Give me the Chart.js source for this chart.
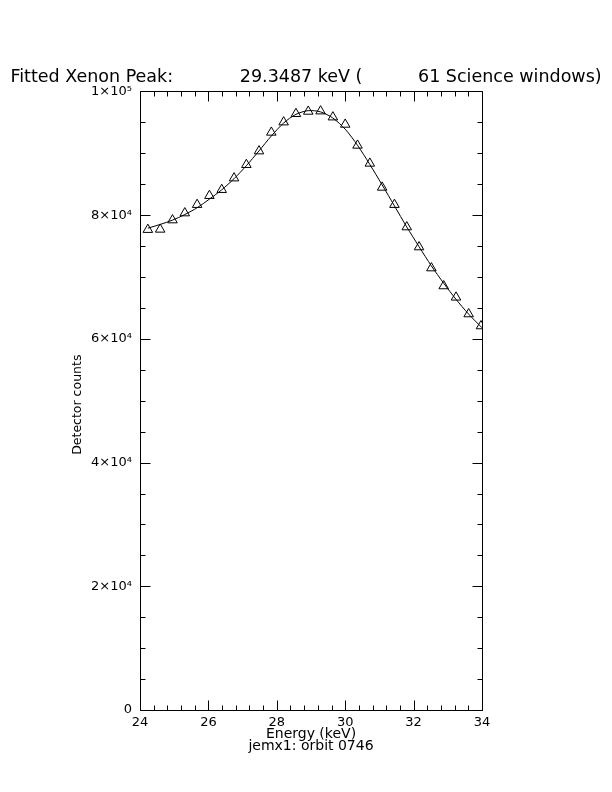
<!DOCTYPE html>
<html>
<head>
<meta charset="utf-8">
<script src="https://cdn.jsdelivr.net/npm/chart.js@4/dist/chart.umd.min.js"></script>
<style>
  html, body { margin: 0; padding: 0; background: #fff; }
  #wrap { width: 612px; height: 792px; }
</style>
</head>
<body>
<div id="wrap"><canvas id="peak" width="612" height="792"></canvas></div>
<script>
// ============================================
// Fitted Xenon peak - JEM-X1 orbit 0746
// ============================================

// measured spectrum (keV, counts)
const energies = [24.23, 24.59, 24.95, 25.31, 25.67, 26.03, 26.39, 26.75, 27.11, 27.48,
                  27.84, 28.20, 28.56, 28.92, 29.28, 29.64, 30.00, 30.36, 30.72, 31.08,
                  31.44, 31.80, 32.16, 32.52, 32.88, 33.24, 33.61, 33.97];
const counts = [77660, 77700, 79210, 80340, 81700, 83150, 84120, 85990, 88160, 90360,
                93380, 95040, 96400, 96770, 96820, 95850, 94670, 91280, 88370, 84490,
                81700, 78080, 74850, 71450, 68550, 66720, 64020, 62080];

// fitted curve
const fitEnergies = [24.23, 24.59, 24.95, 25.31, 25.67, 26.03, 26.39, 26.75, 27.11, 27.48,
                     27.84, 28.20, 28.56, 28.92, 29.28, 29.64, 30.00, 30.36, 30.72, 31.08,
                     31.44, 31.80, 32.16, 32.52, 32.88, 33.24, 33.61, 34.00];
const fitCounts = [77900, 78500, 79200, 80100, 81200, 82600, 84100, 85900, 88000, 90400,
                   92800, 94900, 96300, 96900, 96700, 95700, 93900, 91300, 88200, 84900,
                   81500, 78100, 74900, 71800, 69000, 66400, 64000, 61800];

// axis ticks
const xTickValues = [24, 26, 28, 30, 32, 34];
const yTickValues = [0, 20000, 40000, 60000, 80000, 100000];
const yTickLabels = ['0', '2\u00d710\u2074', '4\u00d710\u2074', '6\u00d710\u2074', '8\u00d710\u2074', '1\u00d710\u2075'];

const FONT = "'DejaVu Sans', Verdana, sans-serif";

// IDL style frame: box with inward ticks on all four sides
const frameTicks = {
  id: 'frameTicks',
  afterDatasetsDraw(chart) {
    const { ctx, chartArea: a, scales: { x, y } } = chart;
    ctx.save();
    ctx.strokeStyle = '#000';
    ctx.lineWidth = 1;
    ctx.beginPath();
    const L = Math.round(a.left) + 0.5, R = Math.round(a.right) + 0.5;
    const T = Math.round(a.top) + 0.5, B = Math.round(a.bottom) + 0.5;
    ctx.rect(L, T, R - L, B - T);
    // x ticks every 0.4 keV, major every 2
    for (let i = 0; i <= 25; i++) {
      const v = 24 + i * 0.4;
      const px = Math.round(x.getPixelForValue(v)) + 0.5;
      const len = (i % 5 === 0) ? 10 : 5;
      ctx.moveTo(px, B); ctx.lineTo(px, B - len);
      ctx.moveTo(px, T); ctx.lineTo(px, T + len);
    }
    // y ticks every 5000, major every 20000
    for (let i = 0; i <= 20; i++) {
      const v = i * 5000;
      const py = Math.round(y.getPixelForValue(v)) + 0.5;
      const len = (i % 4 === 0) ? 10 : 5;
      ctx.moveTo(L, py); ctx.lineTo(L + len, py);
      ctx.moveTo(R, py); ctx.lineTo(R - len, py);
    }
    ctx.stroke();
    ctx.restore();
  }
};

const ctx = document.getElementById('peak').getContext('2d');
new Chart(ctx, {
  type: 'scatter',
  data: {
    datasets: [
      {
        label: 'Data',
        data: energies.map((e, i) => ({ x: e, y: counts[i] })),
        showLine: false,
        pointStyle: 'triangle',
        pointRadius: 5.5,
        pointBorderWidth: 1,
        pointBorderColor: '#000',
        pointBackgroundColor: 'rgba(0,0,0,0)'
      },
      {
        label: 'Fit',
        data: fitEnergies.map((e, i) => ({ x: e, y: fitCounts[i] })),
        showLine: true,
        borderColor: '#000',
        borderWidth: 1,
        pointRadius: 0,
        tension: 0.3
      }
    ]
  },
  options: {
    responsive: false,
    animation: false,
    layout: { padding: { top: 0, right: 0, bottom: 40, left: 0 } },
    plugins: {
      legend: { display: false },
      tooltip: { enabled: false },
      title: {
        display: true,
        text: 'Fitted Xenon Peak:            29.3487 keV (          61 Science windows)',
        color: '#000',
        font: { size: 17.5, family: FONT, weight: 'normal', lineHeight: 1.17 },
        padding: { top: 67, bottom: 4 }
      }
    },
    scales: {
      x: {
        type: 'linear',
        min: 24,
        max: 34,
        afterFit: s => { s.height = 42; },
        afterBuildTicks: s => { s.ticks = xTickValues.map(v => ({ value: v })); },
        grid: { display: false, drawTicks: false },
        border: { display: false },
        ticks: {
          color: '#000',
          padding: 5,
          maxRotation: 0,
          autoSkip: false,
          font: { size: 13, family: FONT }
        },
        title: {
          display: true,
          text: ['Energy (keV)', 'jemx1: orbit 0746'],
          color: '#000',
          font: { size: 14, family: FONT, lineHeight: 0.82 },
          padding: { top: 0, bottom: 0 }
        }
      },
      y: {
        type: 'linear',
        min: 0,
        max: 100000,
        afterFit: s => { s.width = 140; },
        afterBuildTicks: s => { s.ticks = yTickValues.map(v => ({ value: v })); },
        grid: { display: false, drawTicks: false },
        border: { display: false },
        ticks: {
          color: '#000',
          padding: 8,
          autoSkip: false,
          font: { size: 13, family: FONT },
          callback: v => yTickLabels[yTickValues.indexOf(v)]
        },
        title: {
          display: true,
          text: 'Detector counts  ',
          color: '#000',
          font: { size: 12.5, family: FONT, lineHeight: 1.2 },
          padding: { top: 70, bottom: 0 }
        }
      },
      // empty right-hand margin so the title stays centred on the page
      yRight: {
        type: 'linear',
        position: 'right',
        min: 0,
        max: 1,
        afterFit: s => { s.width = 130; },
        grid: { display: false, drawTicks: false },
        border: { display: false },
        ticks: { display: false }
      }
    }
  },
  plugins: [frameTicks]
});
</script>
</body>
</html>
